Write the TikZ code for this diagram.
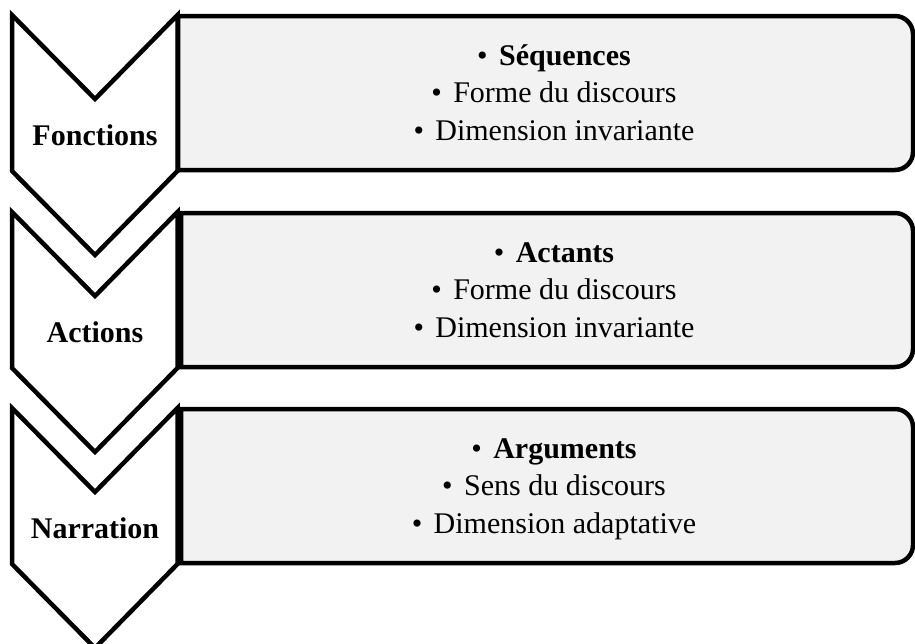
\documentclass[tikz,border=0pt]{standalone}
\usepackage{fontspec}
\setmainfont{Liberation Serif}
\definecolor{panelgray}{HTML}{F2F2F2}
\tikzset{
  chev/.style={draw=black, fill=white, line width=4.5pt, line join=miter},
  panel/.style={draw=black, fill=panelgray, line width=4.5pt},
  lbl/.style={font=\fontsize{30}{36}\selectfont\bfseries, anchor=base, inner sep=0pt},
  item/.style={font=\fontsize{30}{36}\selectfont, anchor=base, inner sep=0pt},
}
\newcommand{\bul}{\textbullet\hspace{0.38em}}
\begin{document}
\begin{tikzpicture}[x=1pt,y=1pt]
\useasboundingbox (0,0) rectangle (915,-643);
\clip (0,0) rectangle (915,-643);
% three stages: chevron on the left, rounded panel on the right
\foreach \i/\t/\bx/\lab/\head/\lineb/\linec in {
  1/15/178/Fonctions/Séquences/Forme du discours/Dimension invariante,
  2/212/181/Actions/Actants/Forme du discours/Dimension invariante,
  3/408/181/Narration/Arguments/Sens du discours/Dimension adaptative}{
  % chevron
  \draw[chev] (12,-\t) -- (95,-\t-84) -- (177.5,-\t) -- (177.5,-\t-156)
       -- (95,-\t-240) -- (12,-\t-156) -- cycle;
  % panel, square on the left, rounded on the right
  \draw[panel] (\bx,-\t-1) -- (895,-\t-1)
       arc[start angle=90, end angle=0, radius=18] -- (913,-\t-137)
       arc[start angle=0, end angle=-90, radius=18] -- (\bx,-\t-155) -- cycle;
  % labels
  \node[lbl] (lab\i) at (95,-\t-130) {\lab};
  \node[item] (head\i) at (554,-\t-50) {\bul\textbf{\head}};
  \node[item] (lineb\i) at (554,-\t-87.5) {\bul\lineb};
  \node[item] (linec\i) at (554,-\t-125) {\bul\linec};
}
\end{tikzpicture}
\end{document}
